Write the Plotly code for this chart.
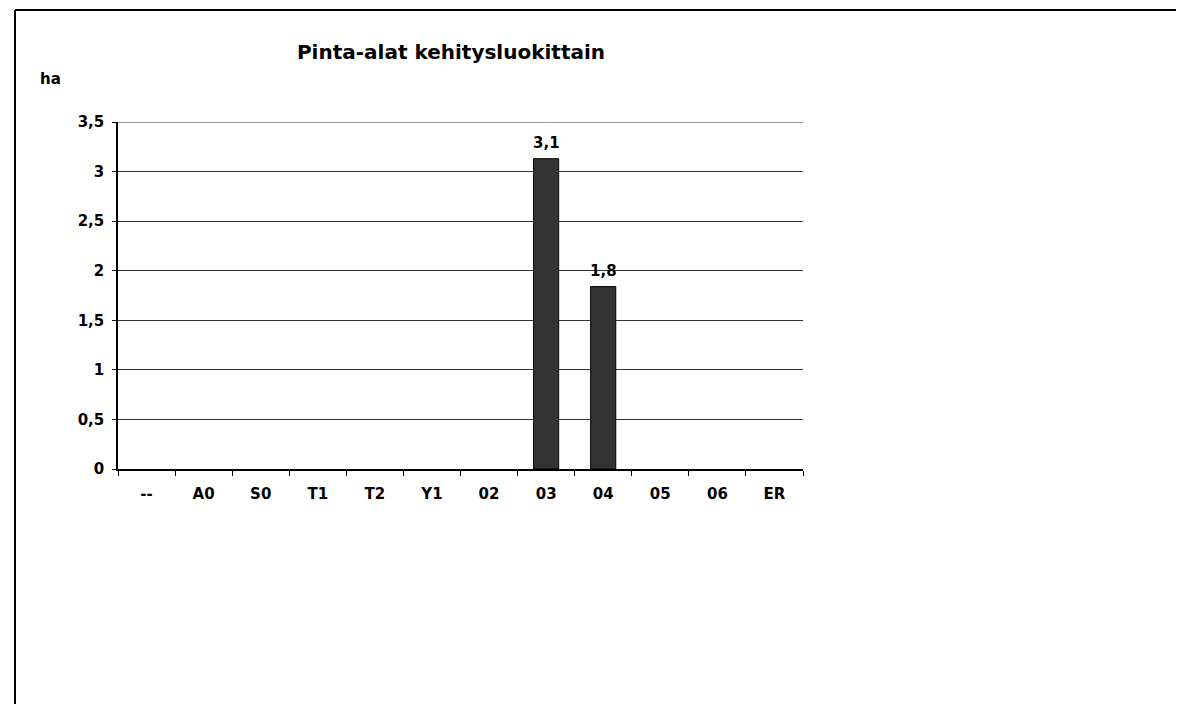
import plotly.graph_objs as go

# Values
categories = ["--", "A0", "S0", "T1", "T2", "Y1", "02", "03", "04", "05", "06", "ER"]
area_ha = [0, 0, 0, 0, 0, 0, 0, 3.13, 1.84, 0, 0, 0]
bar_labels = ["", "", "", "", "", "", "", "3,1", "1,8", "", "", ""]
y_ticks = [0, 0.5, 1, 1.5, 2, 2.5, 3, 3.5]

font = "DejaVu Sans"

# page body adds an 8px margin, so the figure is sized/placed to compensate
W, H = 1176, 696

bars = go.Bar(
    x=categories,
    y=area_ha,
    cliponaxis=False,
    marker=dict(
        color="#333333",
        line=dict(color="black", width=[1 if v > 0 else 0 for v in area_ha]),
    ),
    width=0.44,
)

# data labels above the non-empty bars (x given as category index,
# since labels like "03" would otherwise be read as numbers)
label_notes = [
    dict(
        x=i, y=v, xref="x", yref="y",
        text="<b>" + t + "</b>",
        showarrow=False,
        yanchor="bottom",
        yshift=5,
        font=dict(family=font, size=15, color="black"),
    )
    for i, (v, t) in enumerate(zip(area_ha, bar_labels))
    if t
]

layout = go.Layout(
    width=W,
    height=H,
    paper_bgcolor="white",
    plot_bgcolor="white",
    separators=", ",
    showlegend=False,
    margin=dict(l=110, r=W - 795, t=114, b=H - 461, pad=0),
    font=dict(family=font, size=15, color="black"),
    title=dict(
        text="<b>Pinta-alat kehitysluokittain</b>",
        font=dict(family=font, size=20, color="black"),
        x=(451 - 8) / W,
        xanchor="center",
        xref="container",
        y=1 - (52 - 8) / H,
        yanchor="middle",
    ),
    xaxis=dict(
        type="category",
        showline=True,
        linecolor="black",
        linewidth=1.5,
        ticks="outside",
        tickson="boundaries",
        ticklen=5,
        tickcolor="black",
        ticklabelstandoff=10,
        tickfont=dict(family=font, size=15, color="black", weight="bold"),
        showgrid=False,
    ),
    yaxis=dict(
        range=[0, 3.5],
        tickvals=y_ticks,
        showline=True,
        linecolor="black",
        linewidth=1.5,
        ticks="outside",
        ticklen=4,
        tickcolor="black",
        ticklabelstandoff=5,
        tickfont=dict(family=font, size=15, color="black", weight="bold"),
        showgrid=True,
        gridcolor="#333333",
        gridwidth=1,
        zeroline=False,
    ),
    annotations=label_notes + [
        dict(
            text="<b>ha</b>",
            xref="paper",
            yref="paper",
            x=(38 - 118) / 685,
            y=(469 - 68) / 347,
            showarrow=False,
            font=dict(family=font, size=15, color="black"),
        )
    ],
    shapes=[
        # top gridline, which plotly drops at the range edge
        dict(type="line", xref="paper", yref="y", x0=0, x1=1,
             y0=y_ticks[-1], y1=y_ticks[-1],
             line=dict(color="#333333", width=1)),
        # scan frame: top and left edges
        dict(type="line", xref="paper", yref="paper",
             x0=(15 - 118) / 685, x1=(1184 - 118) / 685,
             y0=(469 - 10) / 347, y1=(469 - 10) / 347,
             line=dict(color="black", width=2)),
        dict(type="line", xref="paper", yref="paper",
             x0=(15 - 118) / 685, x1=(15 - 118) / 685,
             y0=(469 - 10) / 347, y1=(469 - 704) / 347,
             line=dict(color="black", width=2)),
    ],
)

fig = go.Figure(data=[bars], layout=layout)
fig.write_html("out.html")
